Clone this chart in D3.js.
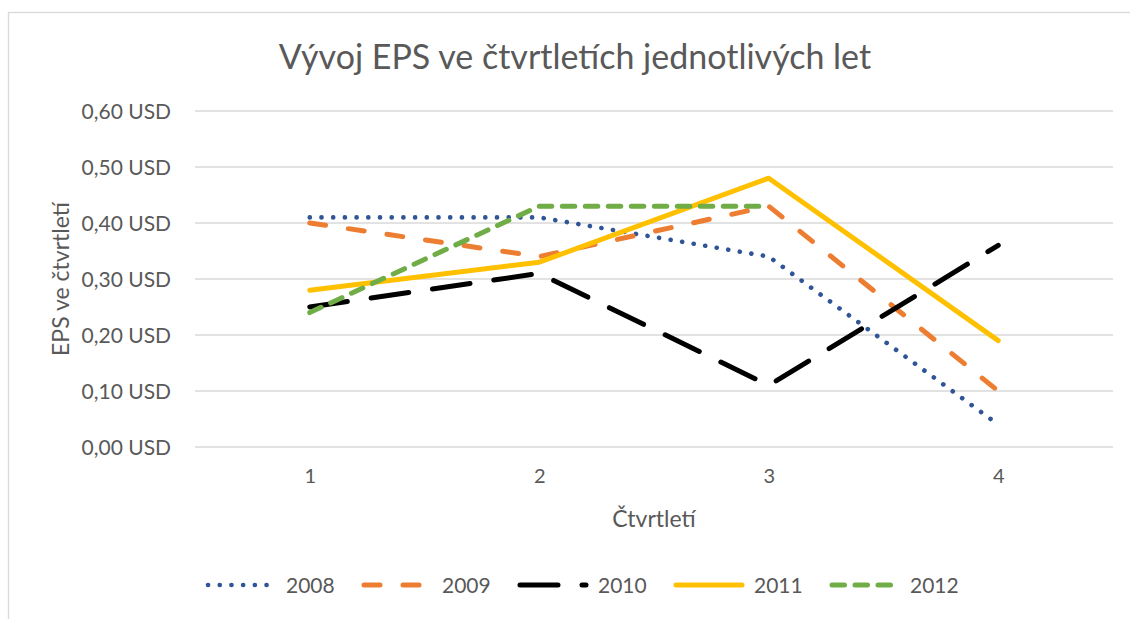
<!DOCTYPE html>
<html><head><meta charset="utf-8">
<script src="https://cdn.jsdelivr.net/npm/d3@7"></script>
<style>
html,body{margin:0;padding:0;background:#fff;}
text{font-family:Lato,"Open Sans",sans-serif;fill:#595959;}
</style></head>
<body><svg id="c" width="1130" height="619"></svg>
<script>
const quarters = [1, 2, 3, 4];
const yTicks = [0, 0.1, 0.2, 0.3, 0.4, 0.5, 0.6];
const seriesNames = ["2008", "2009", "2010", "2011", "2012"];
const s2008 = [0.41, 0.41, 0.34, 0.04];
const s2009 = [0.40, 0.34, 0.43, 0.10];
const s2010 = [0.25, 0.31, 0.11, 0.36];
const s2011 = [0.28, 0.33, 0.48, 0.19];
const s2012 = [0.24, 0.43, 0.43, null];
const seriesValues = [s2008, s2009, s2010, s2011, s2012];
const colors = ["#2f5597", "#ed7d31", "#000000", "#ffc000", "#70ad47"];
const dashes = ["0.1 11.6", "16 23", "38 24", null, "12.5 10.5"];
const title = "Vývoj EPS ve čtvrtletích jednotlivých let";
const xTitle = "Čtvrtletí";
const yTitle = "EPS ve čtvrtletí";

const svg = d3.select("#c");
// chart border
svg.append("rect").attr("x", 8.5).attr("y", 12.5).attr("width", 1140).attr("height", 620)
  .attr("fill", "#fff").attr("stroke", "#d9d9d9").attr("stroke-width", 1.3);

const x = d3.scalePoint().domain(quarters).range([195, 1113]).padding(0.5);
const y = d3.scaleLinear().domain([0, 0.6]).range([447, 111]);

// grid
svg.append("g").selectAll("line").data(yTicks).join("line")
  .attr("x1", 195).attr("x2", 1113)
  .attr("y1", d => y(d)).attr("y2", d => y(d))
  .attr("stroke", "#d9d9d9").attr("stroke-width", 1.3);

// y axis labels
const fmt = d => d.toFixed(2).replace(".", ",") + " USD";
const yAxis = svg.append("g").attr("transform", "translate(171,0)")
  .call(d3.axisLeft(y).tickValues(yTicks).tickFormat(fmt).tickSize(0).tickPadding(0));
yAxis.select(".domain").remove();
yAxis.selectAll("text").style("font-size", "21px").attr("fill", "#595959").attr("dy", "0.35em");

// x axis labels
const xAxis = svg.append("g").attr("transform", "translate(0,469)")
  .call(d3.axisBottom(x).tickSize(0).tickPadding(0));
xAxis.select(".domain").remove();
xAxis.selectAll("text").style("font-size", "20px").attr("fill", "#595959");

// titles
svg.append("text").attr("x", 575).attr("y", 69).attr("text-anchor", "middle")
  .style("font-size", "34px").text(title);
svg.append("text").attr("x", 654).attr("y", 527).attr("text-anchor", "middle")
  .style("font-size", "23px").text(xTitle);
svg.append("text").attr("transform", "translate(69,279) rotate(-90)").attr("text-anchor", "middle")
  .style("font-size", "23px").text(yTitle);

// lines
seriesValues.forEach((vals, k) => {
  svg.append("path").datum(vals).attr("d", (d) => d3.line()
      .defined(v => v != null).x((v, i) => x(quarters[i])).y(v => y(v))(d))
    .attr("fill", "none").attr("stroke", colors[k]).attr("stroke-width", k === 0 ? 4.6 : 5)
    .attr("stroke-linecap", "round").attr("stroke-linejoin", "round")
    .attr("stroke-dasharray", dashes[k]);
});

// legend
const legStarts = [206, 362, 518, 674, 830];
const lg = svg.append("g");
seriesNames.forEach((n, k) => {
  const g = lg.append("g").attr("transform", `translate(${legStarts[k]},585)`);
  g.append("line").attr("x1", 2).attr("x2", 68).attr("y1", 0).attr("y2", 0)
    .attr("stroke", colors[k]).attr("stroke-width", k === 0 ? 4.6 : 5)
    .attr("stroke-linecap", "round").attr("stroke-dasharray", dashes[k]);
  g.append("text").attr("x", 80).attr("y", 7.5).style("font-size", "21px").text(n);
});
</script></body></html>
